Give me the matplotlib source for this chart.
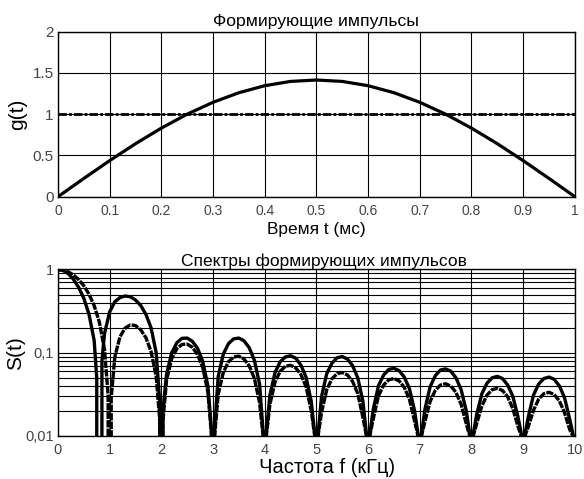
import numpy as np
import matplotlib
matplotlib.use('Agg')
import matplotlib.pyplot as plt
from matplotlib.ticker import LogLocator, NullFormatter

plt.rcParams['font.family'] = ['Liberation Sans', 'DejaVu Sans']

# formirujushchie impulsy (t in ms)
t = [0.0, 0.05, 0.1, 0.15, 0.2, 0.25, 0.3, 0.35, 0.4, 0.45, 0.5,
     0.55, 0.6, 0.65, 0.7, 0.75, 0.8, 0.85, 0.9, 0.95, 1.0]
g_sin = [0.0, 0.221, 0.437, 0.642, 0.831, 1.0, 1.144, 1.26, 1.345, 1.397, 1.414,
         1.397, 1.345, 1.26, 1.144, 1.0, 0.831, 0.642, 0.437, 0.221, 0.0]
t_rect = [0.0, 1.0]
g_rect = [1.0, 1.0]

# spettri (f in kHz), impulso rettangolare
f_rect = [0.0, 0.1, 0.2, 0.3, 0.4, 0.5, 0.6, 0.7, 0.8, 0.9, 0.97, 1.0, 1.03,
          1.1, 1.2, 1.3, 1.4, 1.5, 1.6, 1.7, 1.8, 1.9, 1.97, 2.0, 2.03,
          2.1, 2.2, 2.3, 2.4, 2.5, 2.6, 2.7, 2.8, 2.9, 2.97, 3.0, 3.03,
          3.1, 3.2, 3.3, 3.4, 3.5, 3.6, 3.7, 3.8, 3.9, 3.97, 4.0, 4.03,
          4.1, 4.2, 4.3, 4.4, 4.5, 4.6, 4.7, 4.8, 4.9, 4.97, 5.0, 5.03,
          5.1, 5.2, 5.3, 5.4, 5.5, 5.6, 5.7, 5.8, 5.9, 5.97, 6.0, 6.03,
          6.1, 6.2, 6.3, 6.4, 6.5, 6.6, 6.7, 6.8, 6.9, 6.97, 7.0, 7.03,
          7.1, 7.2, 7.3, 7.4, 7.5, 7.6, 7.7, 7.8, 7.9, 7.97, 8.0, 8.03,
          8.1, 8.2, 8.3, 8.4, 8.5, 8.6, 8.7, 8.8, 8.9, 8.97, 9.0, 9.03,
          9.1, 9.2, 9.3, 9.4, 9.5, 9.6, 9.7, 9.8, 9.9, 9.97, 10.0]
s_rect = [1.0, 0.984, 0.936, 0.858, 0.757, 0.637, 0.505, 0.368, 0.234, 0.109, 0.031, 0.0, 0.029,
          0.0894, 0.156, 0.198, 0.216, 0.212, 0.189, 0.152, 0.104, 0.0518, 0.0152, 0.0, 0.0148,
          0.0468, 0.085, 0.112, 0.126, 0.127, 0.116, 0.0954, 0.0668, 0.0339, 0.0101, 0.0, 0.0099,
          0.0317, 0.0585, 0.078, 0.089, 0.0909, 0.0841, 0.0696, 0.0492, 0.0252, 0.0098, 0.0, 0.0098,
          0.024, 0.0445, 0.0599, 0.0688, 0.0707, 0.0658, 0.0548, 0.039, 0.0201, 0.0098, 0.0, 0.0098,
          0.0193, 0.036, 0.0486, 0.0561, 0.0579, 0.0541, 0.0452, 0.0323, 0.0167, 0.0098, 0.0, 0.0098,
          0.0161, 0.0302, 0.0409, 0.0473, 0.049, 0.0459, 0.0384, 0.0275, 0.015, 0.0098, 0.0, 0.0098,
          0.015, 0.026, 0.0353, 0.0409, 0.0424, 0.0398, 0.0334, 0.024, 0.014, 0.0098, 0.0, 0.0098,
          0.014, 0.0228, 0.031, 0.036, 0.0374, 0.0352, 0.0296, 0.0213, 0.013, 0.0098, 0.0, 0.0098,
          0.013, 0.0203, 0.0277, 0.0322, 0.0335, 0.0315, 0.0265, 0.0191, 0.012, 0.0098, 0.0]

# impulso sinusoidale
f_sin = [0.0, 0.1, 0.2, 0.3, 0.4, 0.5, 0.6, 0.7, 0.75, 0.8, 0.85, 0.9, 1.0,
         1.1, 1.2, 1.3, 1.4, 1.5, 1.6, 1.7, 1.8, 1.9, 1.97, 2.0, 2.03,
         2.1, 2.2, 2.3, 2.4, 2.5, 2.6, 2.7, 2.8, 2.9, 2.97, 3.0, 3.03,
         3.1, 3.2, 3.3, 3.4, 3.5, 3.6, 3.7, 3.8, 3.9, 3.97, 4.0, 4.03,
         4.1, 4.2, 4.3, 4.4, 4.5, 4.6, 4.7, 4.8, 4.9, 4.97, 5.0, 5.03,
         5.1, 5.2, 5.3, 5.4, 5.5, 5.6, 5.7, 5.8, 5.9, 5.97, 6.0, 6.03,
         6.1, 6.2, 6.3, 6.4, 6.5, 6.6, 6.7, 6.8, 6.9, 6.97, 7.0, 7.03,
         7.1, 7.2, 7.3, 7.4, 7.5, 7.6, 7.7, 7.8, 7.9, 7.97, 8.0, 8.03,
         8.1, 8.2, 8.3, 8.4, 8.5, 8.6, 8.7, 8.8, 8.9, 8.97, 9.0, 9.03,
         9.1, 9.2, 9.3, 9.4, 9.5, 9.6, 9.7, 9.8, 9.9, 9.97, 10.0]
s_sin = [1.0, 0.97, 0.89, 0.76, 0.61, 0.45, 0.29, 0.14, 0.05, 0.0, 0.08, 0.17, 0.31,
         0.41, 0.46, 0.48, 0.47, 0.43, 0.37, 0.29, 0.2, 0.1, 0.025, 0.0, 0.02,
         0.055, 0.1, 0.132, 0.149, 0.15, 0.137, 0.113, 0.079, 0.04, 0.012, 0.0, 0.012,
         0.052, 0.097, 0.129, 0.147, 0.15, 0.139, 0.115, 0.081, 0.042, 0.011, 0.0, 0.011,
         0.031, 0.058, 0.078, 0.089, 0.092, 0.086, 0.071, 0.051, 0.026, 0.0102, 0.0, 0.0102,
         0.03, 0.056, 0.075, 0.087, 0.09, 0.084, 0.07, 0.05, 0.026, 0.0102, 0.0, 0.0102,
         0.021, 0.04, 0.054, 0.063, 0.065, 0.061, 0.051, 0.037, 0.02, 0.0102, 0.0, 0.0102,
         0.021, 0.039, 0.053, 0.062, 0.064, 0.06, 0.05, 0.036, 0.02, 0.0102, 0.0, 0.0102,
         0.018, 0.032, 0.043, 0.05, 0.052, 0.049, 0.041, 0.03, 0.017, 0.0102, 0.0, 0.0102,
         0.017, 0.031, 0.042, 0.049, 0.051, 0.048, 0.04, 0.029, 0.016, 0.0102, 0.0]

fig = plt.figure(figsize=(5.84, 4.79), dpi=100)
ax1 = fig.add_axes([0.0993, 0.5894, 0.885, 0.3445])
ax2 = fig.add_axes([0.0993, 0.0898, 0.885, 0.3476])

tick_col = '#444444'

# grafico alto
ax1.plot(t, g_sin, color='black', lw=2.3)
ax1.plot(t_rect, g_rect, color='black', lw=2.0, linestyle=(0, (3, 0.8, 1, 0.8)))
ax1.set_xlim(0, 1)
ax1.set_ylim(0, 2)
ax1.set_xticks(np.arange(0, 1.01, 0.1))
ax1.set_xticklabels(['0', '0.1', '0.2', '0.3', '0.4', '0.5', '0.6', '0.7', '0.8', '0.9', '1'])
ax1.set_yticks([0, 0.5, 1, 1.5, 2])
ax1.set_yticklabels(['0', '0.5', '1', '1.5', '2'])
ax1.grid(True, color='black', lw=0.8)
ax1.set_title('Формирующие импульсы', fontsize=12.6, pad=4)
ax1.set_xlabel('Время t (мс)', fontsize=12.4, labelpad=3)
ax1.set_ylabel('g(t)', fontsize=15, labelpad=4)
ax1.tick_params(axis='x', labelsize=10, length=0, pad=5, colors=tick_col)
ax1.tick_params(axis='y', labelsize=11, length=0, pad=3, colors=tick_col)

# grafico basso
ax2.plot(f_sin, s_sin, color='black', lw=2.4)
ax2.plot(f_rect, s_rect, color='black', lw=2.4, linestyle=(0, (2.2, 0.35)))
ax2.set_yscale('log', nonpositive='clip')
ax2.set_xlim(0, 10)
ax2.set_ylim(0.01, 1)
ax2.set_xticks(range(0, 11))
ax2.set_yticks([0.01, 0.1, 1])
ax2.set_yticklabels(['0,01', '0,1', '1'])
ax2.yaxis.set_minor_locator(LogLocator(base=10, subs=np.arange(2, 10)))
ax2.yaxis.set_minor_formatter(NullFormatter())
ax2.grid(True, which='major', color='black', lw=0.8)
ax2.grid(True, which='minor', axis='y', color='black', lw=0.8)
ax2.set_title('Спектры формирующих импульсов', fontsize=12.5, pad=1, x=0.515)
ax2.set_xlabel('Частота f (кГц)', fontsize=14.5, labelpad=3)
ax2.xaxis.set_label_coords(0.52, -0.135)
ax2.set_ylabel('S(t)', fontsize=15, labelpad=0)
ax2.tick_params(axis='both', which='both', length=0, colors=tick_col)
ax2.tick_params(axis='x', labelsize=10.5, pad=5)
ax2.tick_params(axis='y', labelsize=10.5, pad=3)

for ax in (ax1, ax2):
    for s in ax.spines.values():
        s.set_color('black')
        s.set_linewidth(1.0)

fig.savefig('out.png', dpi=100)
